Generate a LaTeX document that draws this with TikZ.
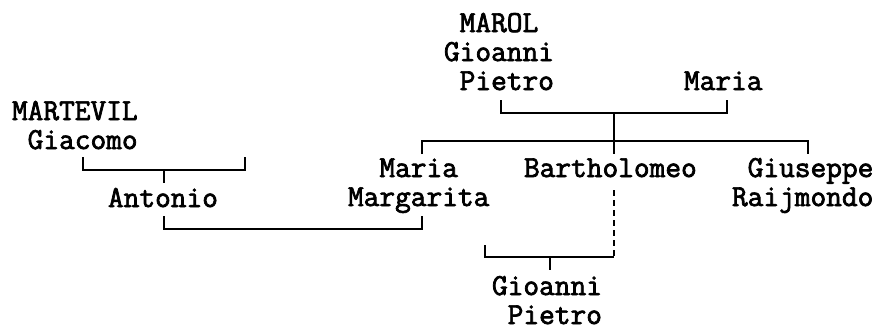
\documentclass[tikz,border=0pt]{standalone}
\usepackage{fontspec}
\newfontfamily\genfont[FakeBold=2.4]{Latin Modern Mono}
\newcommand\cellsp{\phantom{M}}
\begin{document}
\begin{tikzpicture}[x=1pt,y=-1pt,
  person/.style={anchor=base west,inner sep=0pt,outer sep=0pt,font=\genfont\fontsize{30.5}{29}\selectfont},
  link/.style={line width=1.7pt,black},
  dlink/.style={link,dash pattern=on 6pt off 4pt}]
\useasboundingbox (0,0) rectangle (881,327);
% persons
\node[person] (martevil) at (12,120) {\begin{tabular}[t]{@{}l@{}}MARTEVIL\\\cellsp Giacomo\end{tabular}};
\node[person] (marol) at (444,32) {\begin{tabular}[t]{@{}l@{}}\cellsp MAROL\\Gioanni\\\cellsp Pietro\end{tabular}};
\node[person] (maria) at (684,90) {Maria};
\node[person] (antonio) at (108,207) {Antonio};
\node[person] (mm) at (348,177) {\begin{tabular}[t]{@{}l@{}}\cellsp\cellsp Maria\\Margarita\end{tabular}};
\node[person] (barth) at (524,177) {Bartholomeo};
\node[person] (gius) at (732,177) {\begin{tabular}[t]{@{}l@{}}\cellsp Giuseppe\\Raijmondo\end{tabular}};
\node[person] (gp) at (492,295) {\begin{tabular}[t]{@{}l@{}}Gioanni\\\cellsp Pietro\end{tabular}};
% connector points
\coordinate (g1) at (83,157);  \coordinate (g2) at (245,157);
\coordinate (gs) at (164,170); \coordinate (ga) at (164,183);
\coordinate (a1) at (164,216); \coordinate (a2) at (422,216);
\coordinate (p1) at (501,100); \coordinate (p2) at (727,100);
\coordinate (ps) at (614,113); \coordinate (pb) at (614,154);
\coordinate (c1) at (422,154); \coordinate (c2) at (808,154);
\coordinate (bd) at (614,190); \coordinate (bb) at (614,257);
\coordinate (w1) at (485,245); \coordinate (ws) at (550,257); \coordinate (wg) at (550,270);
% MARTEVIL Giacomo -> Antonio
\draw[link] (g1) -- (83,170) -- (245,170) -- (g2);
\draw[link] (gs) -- (ga);
% Antonio = Maria Margarita
\draw[link] (a1) -- (164,229) -- (422,229) -- (a2);
% MAROL Gioanni Pietro = Maria
\draw[link] (p1) -- (501,113) -- (727,113) -- (p2);
\draw[link] (ps) -- (pb);
% children
\draw[link] (c1) -- (422,141) -- (808,141) -- (c2);
% Bartholomeo -> Gioanni Pietro
\draw[dlink] (bd) -- (bb);
\draw[link] (w1) -- (485,257) -- (bb);
\draw[link] (ws) -- (wg);
\end{tikzpicture}
\end{document}
